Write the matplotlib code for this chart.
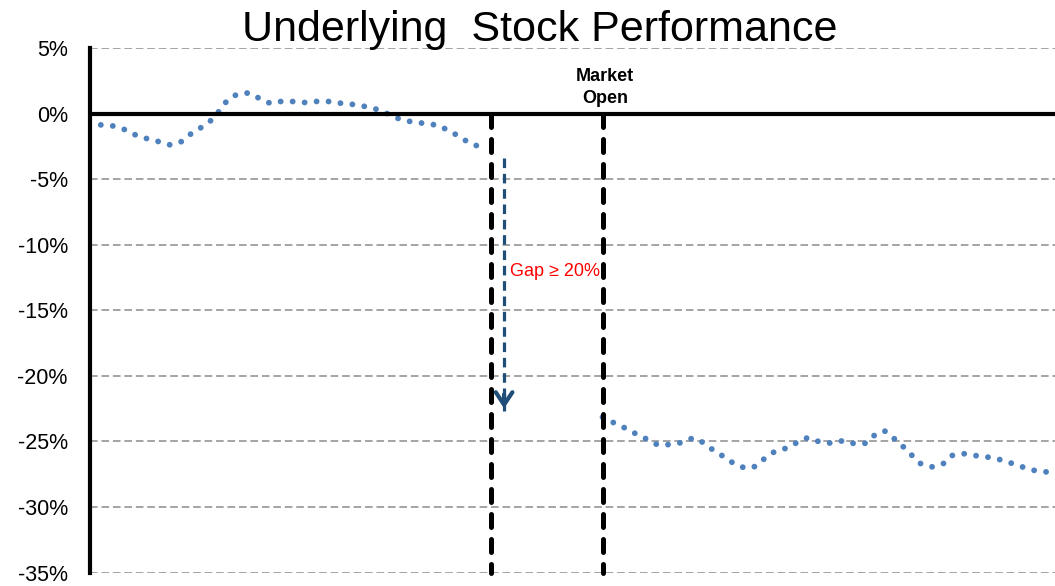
import matplotlib.pyplot as plt

# time steps (arbitrary units) and % change
pre_x = [0.9, 1.9, 2.9, 3.8, 4.75, 5.75, 6.7, 7.6, 8.4, 9.3, 10.1, 10.8, 11.4, 12.2,
         13.2, 14.1, 15.0, 16.0, 17.0, 18.0, 19.0, 20.1, 21.1, 22.1, 23.1, 24.1,
         25.0, 25.9, 26.9, 28.0, 29.0, 29.9, 30.8, 31.6, 32.6]
pre_y = [-0.86, -0.94, -1.22, -1.63, -1.91, -2.14, -2.39, -2.14, -1.55, -1.04,
         -0.51, 0.23, 0.97, 1.45, 1.58, 1.17, 0.79, 0.94, 0.92, 0.84, 0.94, 0.92,
         0.76, 0.69, 0.51, 0.28, -0.10, -0.46, -0.64, -0.76, -0.89, -1.30, -1.76,
         -2.24, -2.57]

post_x = [42.7, 43.6, 44.6, 45.5, 46.4, 47.3, 48.3, 49.3, 50.25, 51.1, 51.9, 52.8,
          53.6, 54.6, 55.4, 56.2, 57.0, 58.0, 58.9, 59.8, 60.8, 61.8, 62.75, 63.75,
          64.6, 65.4, 66.2, 67.0, 67.75, 68.5, 69.2, 70.2, 71.1, 71.8, 72.75, 73.75,
          74.7, 75.7, 76.7, 77.7, 78.6, 79.7]
post_y = [-23.15, -23.56, -23.99, -24.43, -24.83, -25.27, -25.24, -25.09, -24.73,
          -25.09, -25.65, -26.16, -26.66, -27.05, -26.92, -26.31, -25.80, -25.52,
          -25.09, -24.71, -25.04, -25.14, -24.94, -25.19, -25.14, -24.50, -24.20,
          -24.79, -25.40, -26.08, -26.69, -26.95, -26.69, -26.08, -25.93, -26.08,
          -26.18, -26.36, -26.64, -26.95, -27.20, -27.33]

yticks = [5, 0, -5, -10, -15, -20, -25, -30, -35]
close_x = 33.4      # last close
open_x = 42.75      # market open
gap_x = 34.5
gap_from, gap_to = -3.4, -22.7

plt.rcParams['font.family'] = ['Liberation Sans', 'DejaVu Sans']

fig = plt.figure(figsize=(10.55, 5.86), dpi=100)
ax = fig.add_axes([0.0853, 0.023, 0.9147, 0.895])

ax.set_xlim(0, 80.4)
ax.set_ylim(-35, 5)

for t in yticks:
    ax.axhline(t, color='#8c8c8c', lw=1.1, linestyle=(0, (5, 2.5)), zorder=1)

blue = '#4F81BD'
for xs, ys in [(pre_x, pre_y), (post_x, post_y)]:
    ax.plot(xs, ys, color=blue, lw=4.2, linestyle=(0, (0.01, 2.05)),
            dash_capstyle='round', zorder=3)

ax.axhline(0, color='black', lw=3, zorder=4)

for vx in [close_x, open_x]:
    ax.plot([vx, vx], [0, -35], color='black', lw=3.6, linestyle=(0, (2.6, 2.4)),
            dash_capstyle='round', clip_on=False, zorder=5)

# gap arrow
arrow_c = '#1F4E79'
ax.plot([gap_x, gap_x], [gap_from, gap_to], color=arrow_c, lw=2.3,
        linestyle=(0, (3, 1.8)), zorder=6)
ax.annotate('', xy=(gap_x, gap_to), xytext=(gap_x, gap_to + 1.5),
            arrowprops=dict(arrowstyle='->, head_length=0.9, head_width=0.6',
                            color=arrow_c, lw=3), zorder=6)
ax.text(35.0, -12.06, 'Gap ≥ 20%', color='#FF0000', fontsize=13,
        ha='left', va='center')

ax.text(42.9, 2.0, 'Market\nOpen', fontsize=13, fontweight='bold',
        ha='center', va='center', linespacing=1.35)

fig.text(0.512, 0.948, 'Underlying  Stock Performance', fontsize=31,
         ha='center', va='center')

ax.set_yticks(yticks)
ax.set_yticklabels([f'{t}%' for t in yticks], fontsize=15.5)
ax.tick_params(axis='y', length=0, pad=16)
ax.set_xticks([])

for s in ['top', 'right', 'bottom']:
    ax.spines[s].set_visible(False)
ax.spines['left'].set_linewidth(3)
ax.spines['left'].set_zorder(5)

fig.savefig('out.png', dpi=100)
